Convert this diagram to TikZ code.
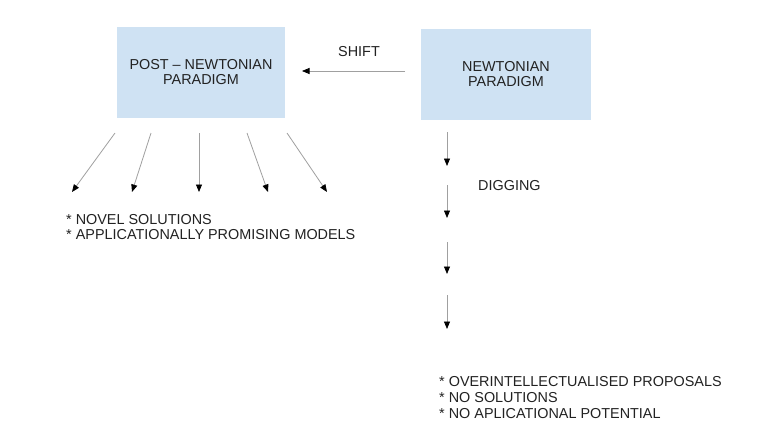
\documentclass[tikz,border=0pt]{standalone}
\usepackage{fontspec}
\setmainfont{Liberation Sans}
\usetikzlibrary{arrows.meta}
\definecolor{boxblue}{HTML}{CFE2F3}
\definecolor{txt}{HTML}{222222}
\definecolor{linegray}{HTML}{A0A0A0}
\begin{document}
\begin{tikzpicture}[x=1pt,y=-1pt,
  pbox/.style={fill=boxblue,draw=none,minimum width=#1,minimum height=91pt,inner sep=0pt,align=center,text=txt,font=\fontsize{14.4}{15}\selectfont},
  lbl/.style={inner sep=0pt,text=txt,font=\fontsize{14.4}{15}\selectfont},
  con/.style={draw=linegray,line width=0.8pt,-{Triangle[length=7.5pt,width=6pt,color=black]}}
]
\useasboundingbox[fill=white] (0,0) rectangle (775,423);
\node[pbox=168pt] (post) at (201,72.5) {POST -- NEWTONIAN\\PARADIGM};
\node[pbox=170pt] (newt) at (506,74.5) {NEWTONIAN\\PARADIGM};
\node[lbl] (shift) at (359,52) {SHIFT};
\node[lbl,anchor=west] (dig) at (478,186) {DIGGING};
\node[lbl,anchor=west,align=left] (good) at (66,227) {* NOVEL SOLUTIONS\\* APPLICATIONALLY PROMISING MODELS};
\node[lbl,anchor=west,align=left,font=\fontsize{14.4}{16}\selectfont] (bad) at (439,397.5) {* OVERINTELLECTUALISED PROPOSALS\\* NO SOLUTIONS\\* NO APLICATIONAL POTENTIAL};
% shift arrow
\coordinate (sa) at (405,71);
\coordinate (sb) at (302,71);
\draw[con] (sa) -- (sb);
% fan
\coordinate (f1s) at (115,133); \coordinate (f1e) at (72,192);
\coordinate (f2s) at (151,133); \coordinate (f2e) at (132,192);
\coordinate (f3s) at (199,133); \coordinate (f3e) at (199,192);
\coordinate (f4s) at (247,133); \coordinate (f4e) at (268,192);
\coordinate (f5s) at (287,133); \coordinate (f5e) at (327,192);
\foreach \i in {1,...,5} {\draw[con] (f\i s) -- (f\i e);}
% digging
\coordinate (d1s) at (447,132); \coordinate (d1e) at (447,166);
\coordinate (d2s) at (447,185); \coordinate (d2e) at (447,218);
\coordinate (d3s) at (447,242); \coordinate (d3e) at (447,274);
\coordinate (d4s) at (447,295); \coordinate (d4e) at (447,329);
\foreach \i in {1,...,4} {\draw[con] (d\i s) -- (d\i e);}
\end{tikzpicture}
\end{document}
